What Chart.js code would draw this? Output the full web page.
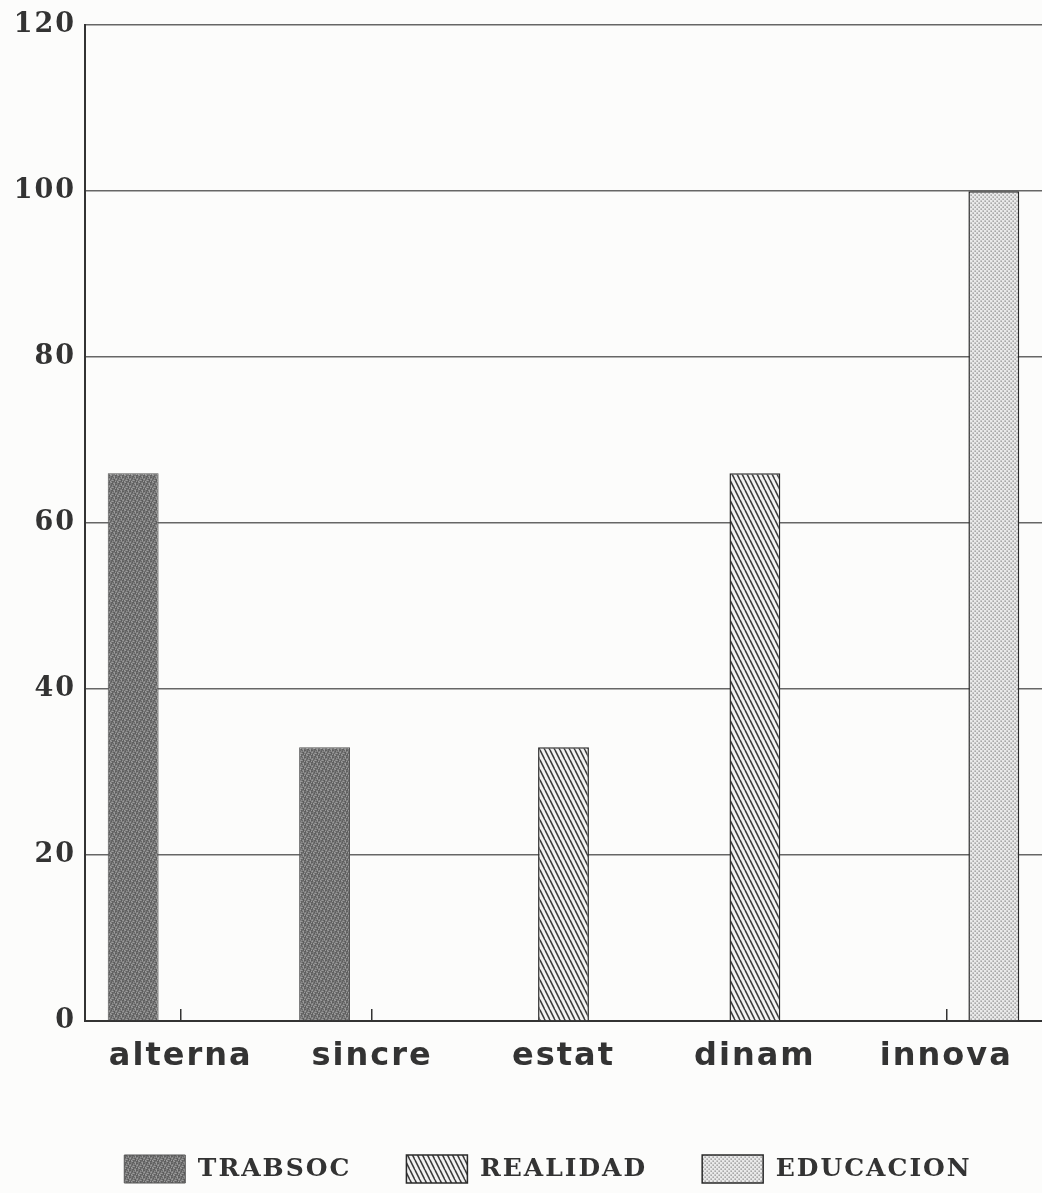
<!DOCTYPE html>
<html>
<head>
<meta charset="utf-8">
<script src="https://cdn.jsdelivr.net/npm/chart.js@4.4.0/dist/chart.umd.min.js"></script>
<style>
    body { margin: 0; background: #fcfcfb; }
    .canvas-container { width: 1042px; height: 1193px; position: relative; overflow: hidden; }
</style>
</head>
<body>
<div class="canvas-container"><canvas id="temas_graph"></canvas></div>
<script>
const categorias = ['alterna', 'sincre', 'estat', 'dinam', 'innova'];
const trabsoc = [66, 33, 0, 0, 0];
const realidad = [0, 0, 33, 66, 0];
const educacion = [0, 0, 0, 0, 100];
const serieNombres = ['TRABSOC', 'REALIDAD', 'EDUCACION'];
const yTicks = [0, 20, 40, 60, 80, 100, 120];

// tramas de relleno
function makePattern(w, h, draw) {
    const c = document.createElement('canvas');
    c.width = w;
    c.height = h;
    draw(c.getContext('2d'), w, h);
    return c.getContext('2d').createPattern(c, 'repeat');
}

const grisOscuro = makePattern(7, 7, function (g) {
    const tonos = ['#5c5c5c', '#7a7a7a', '#686868', '#8c8c8c', '#616161', '#727272', '#9a9a9a'];
    for (let y = 0; y < 7; y++) {
        for (let x = 0; x < 7; x++) {
            g.fillStyle = tonos[(x * 3 + y * 5 + (x * y) % 3) % tonos.length];
            g.fillRect(x, y, 1, 1);
        }
    }
});

const rayado = makePattern(5, 10, function (g, w, h) {
    g.fillStyle = '#f2f2f2';
    g.fillRect(0, 0, w, h);
    g.strokeStyle = '#3a3a3a';
    g.lineWidth = 1.6;
    [-w, 0, w].forEach(function (x0) {
        g.beginPath();
        g.moveTo(x0, 0);
        g.lineTo(x0 + w, h);
        g.stroke();
    });
});

const punteado = makePattern(4, 4, function (g) {
    g.fillStyle = '#e9e9e9';
    g.fillRect(0, 0, 4, 4);
    g.fillStyle = '#858585';
    g.fillRect(0.5, 0.5, 1.3, 1.3);
    g.fillRect(2.5, 2.5, 1.3, 1.3);
});

// espaciado de letras como en el original
const espaciado = {
    id: 'espaciado',
    beforeLayout: function (chart) {
        chart.ctx.letterSpacing = '2px';
    },
    afterLayout: function (chart) {
        chart.legend.left += 27;
        chart.legend.right += 27;
    },
    beforeDraw: function (chart) {
        chart.ctx.letterSpacing = '2px';
    }
};

const ctx = document.getElementById('temas_graph');
new Chart(ctx, {
    type: 'bar',
    data: {
        labels: categorias,
        datasets: [{
            label: serieNombres[0],
            data: trabsoc,
            backgroundColor: grisOscuro,
            borderColor: '#555',
            borderWidth: 1
        }, {
            label: serieNombres[1],
            data: realidad,
            backgroundColor: rayado,
            borderColor: '#2a2a2a',
            borderWidth: 1.5
        }, {
            label: serieNombres[2],
            data: educacion,
            backgroundColor: punteado,
            borderColor: '#2a2a2a',
            borderWidth: 1.5
        }]
    },
    plugins: [espaciado],
    options: {
        responsive: true,
        maintainAspectRatio: false,
        animation: false,
        categoryPercentage: 0.745,
        barPercentage: 1.07,
        layout: {
            padding: { top: 22, right: 0, left: 0, bottom: 0 }
        },
        plugins: {
            tooltip: { enabled: false },
            legend: {
                position: 'bottom',
                labels: {
                    boxWidth: 61,
                    boxHeight: 28,
                    padding: 55,
                    color: '#333',
                    font: { family: 'DejaVu Serif', size: 25, weight: 'bold' }
                }
            }
        },
        scales: {
            y: {
                min: 0,
                max: 120,
                afterFit: function (scale) {
                    scale.width = 85;
                },
                afterBuildTicks: function (scale) {
                    scale.ticks = yTicks.map(function (v) { return { value: v }; });
                },
                border: { color: '#333', width: 2 },
                grid: {
                    color: '#666',
                    lineWidth: 1.5,
                    drawTicks: false
                },
                ticks: {
                    padding: 9,
                    color: '#333',
                    font: { family: 'DejaVu Serif', size: 27, weight: 'bold' }
                }
            },
            x: {
                afterFit: function (scale) {
                    scale.height = 79;
                },
                border: { color: '#333', width: 2 },
                grid: {
                    offset: false,
                    drawOnChartArea: false,
                    drawTicks: true,
                    tickLength: -12,
                    color: '#333',
                    lineWidth: 1.5
                },
                ticks: {
                    padding: 28,
                    color: '#333',
                    font: { family: 'DejaVu Sans', size: 32, weight: 'bold' }
                }
            }
        }
    }
});
</script>
</body>
</html>
